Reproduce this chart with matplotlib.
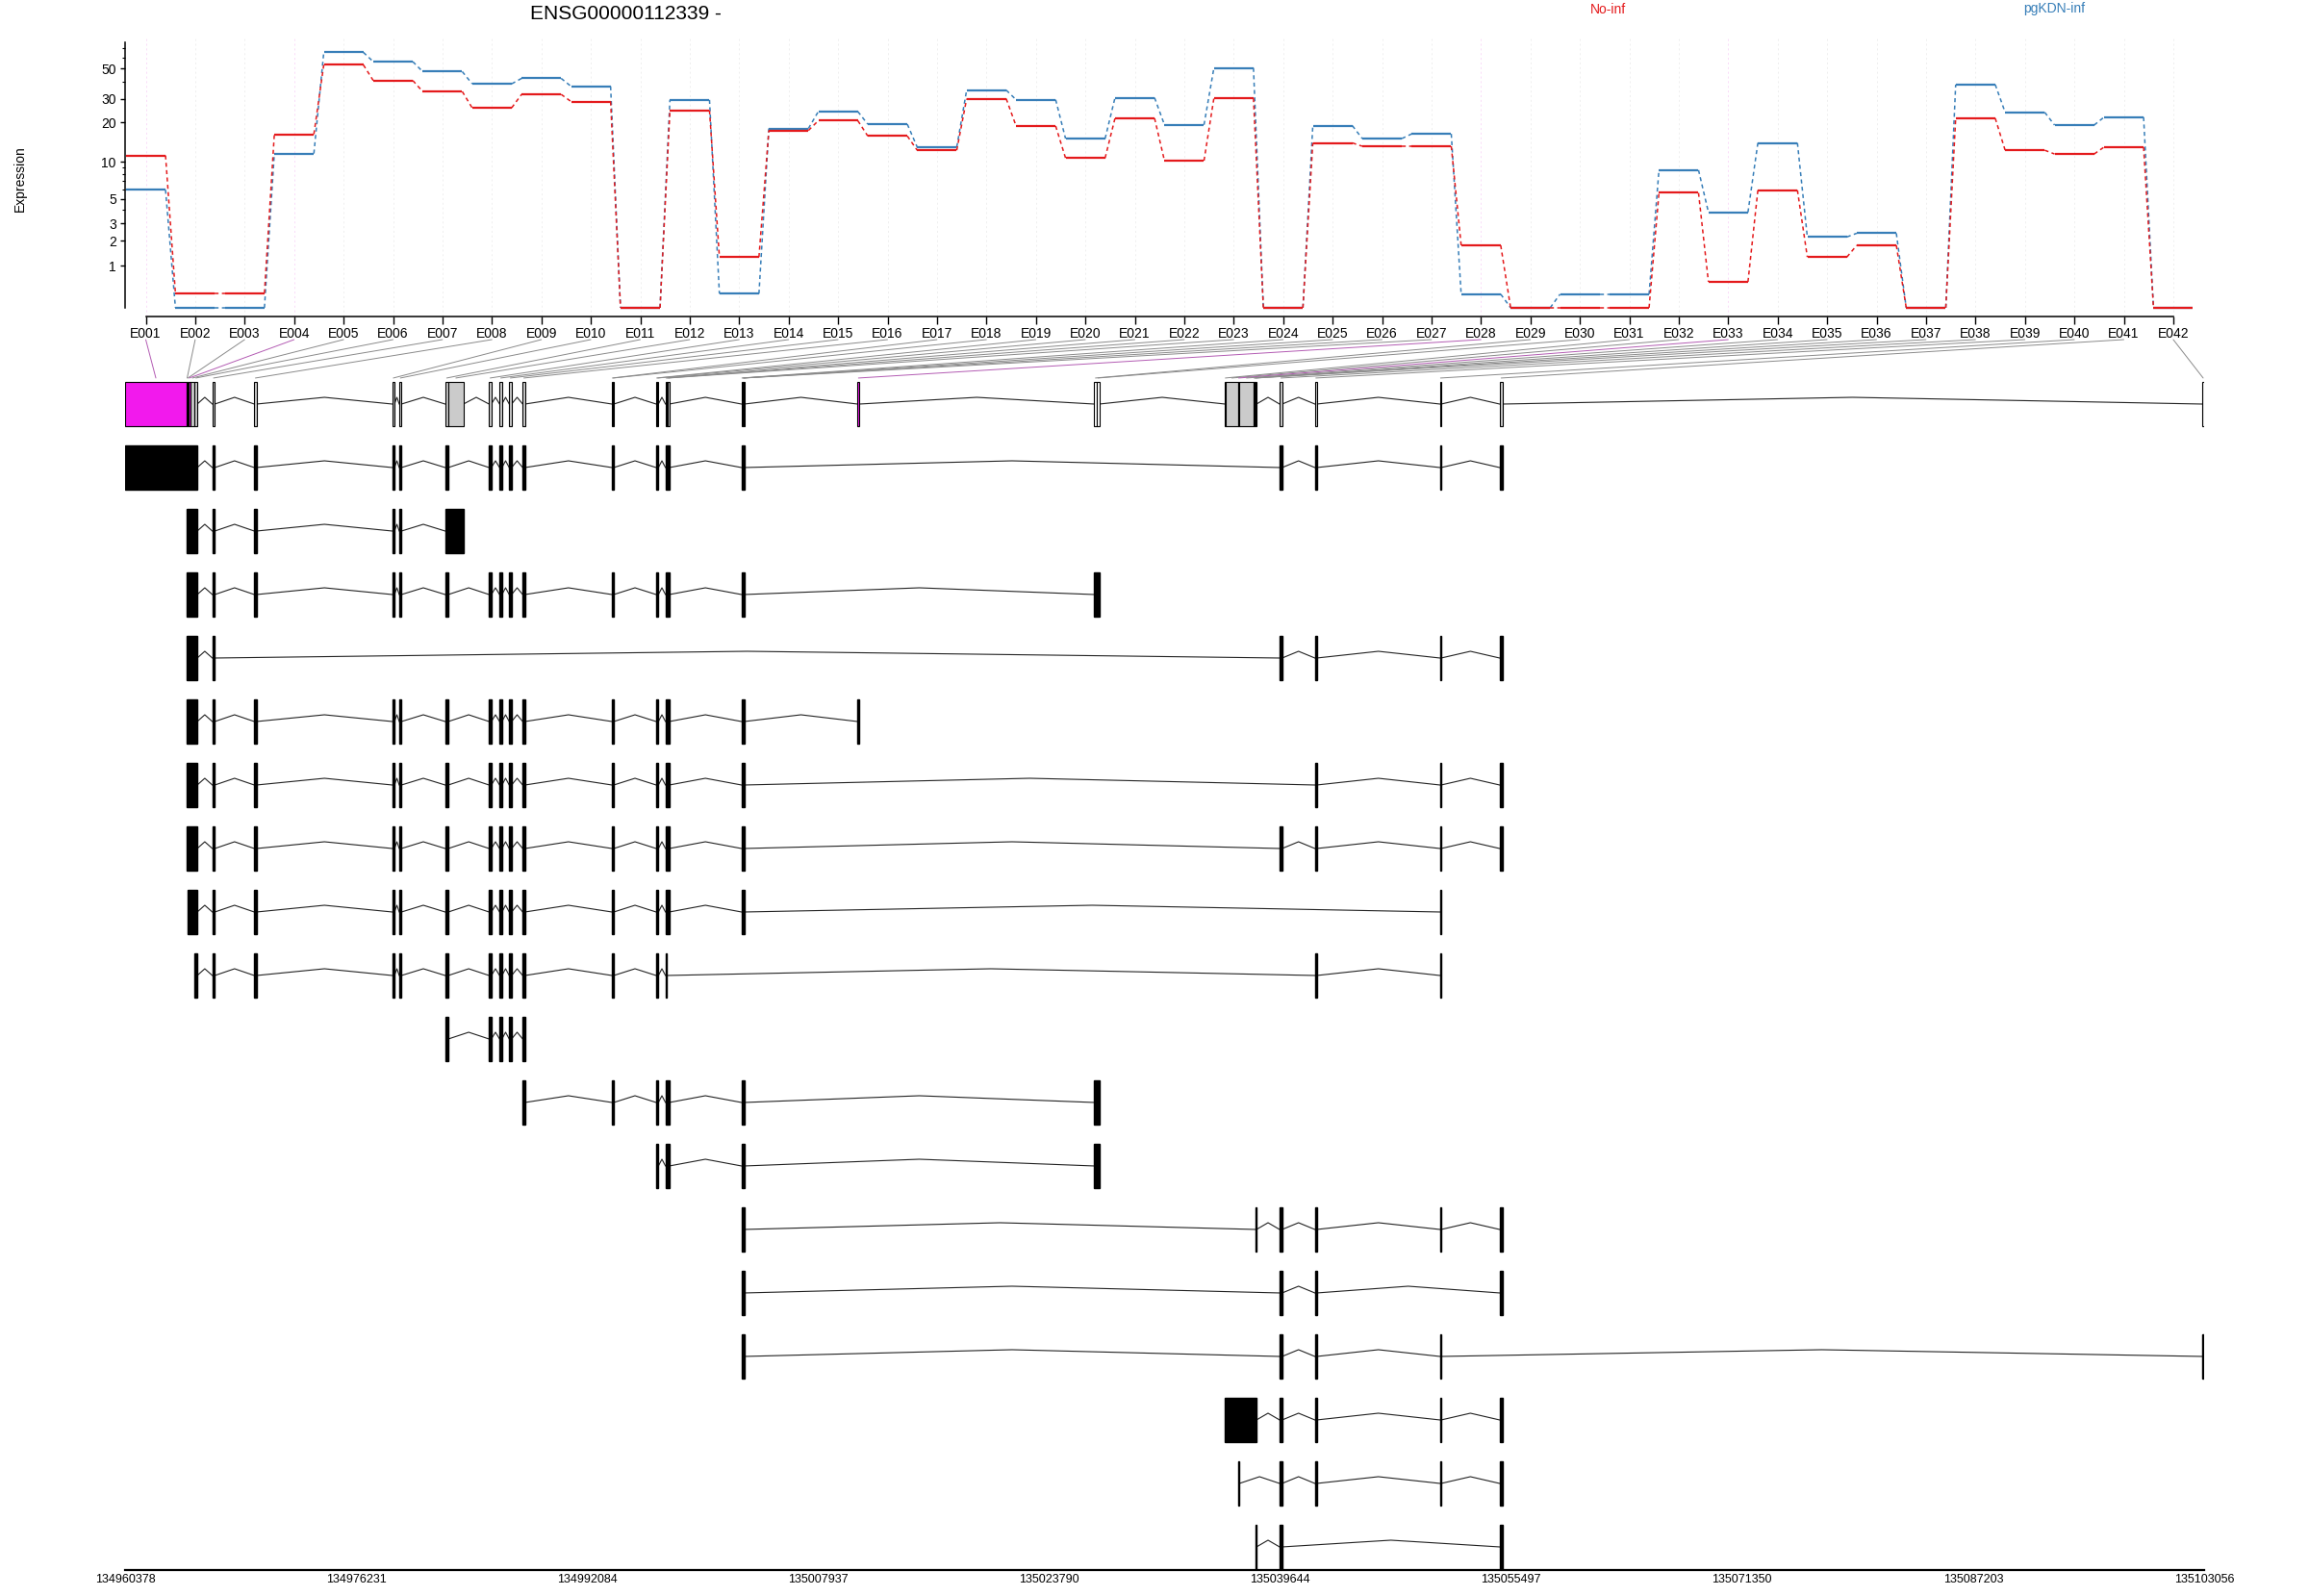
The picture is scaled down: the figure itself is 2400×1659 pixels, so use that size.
import numpy as np
import matplotlib
matplotlib.use("Agg")
import matplotlib.pyplot as plt
from matplotlib.patches import Rectangle, ConnectionPatch

plt.rcParams['font.family'] = ['Liberation Sans', 'DejaVu Sans']
plt.rcParams['lines.scale_dashes'] = False

W, H, DPI = 2400, 1659, 100

# ---------------- data ----------------
gene_title = "ENSG00000112339 -"
conditions = ["No-inf", "pgKDN-inf"]
exon_ids = ["E%03d" % i for i in range(1, 43)]

expr_noinf = [11.2, 0.27, 0.27, 16.3, 53.1, 40.8, 33.9, 25.7, 32.3, 28.6,
              0.0, 24.6, 1.30, 17.4, 20.6, 15.8, 12.3, 30.0, 18.8, 10.7,
              21.5, 10.2, 30.3, 0.0, 14.0, 13.2, 13.2, 1.79, 0.0, 0.0,
              0.0, 5.6, 0.53, 5.9, 1.3, 1.79, 0.0, 21.5, 12.3, 11.5,
              13.0, 0.0]
expr_pgkdn = [5.94, 0.0, 0.0, 11.6, 65.4, 56.0, 47.4, 38.6, 42.3, 37.0,
              0.0, 29.4, 0.26, 18.0, 24.1, 19.4, 13.0, 34.7, 29.5, 15.1,
              30.5, 19.2, 50.4, 0.0, 18.9, 15.1, 16.4, 0.25, 0.0, 0.25,
              0.25, 8.6, 3.8, 14.0, 2.2, 2.4, 0.0, 38.1, 23.8, 19.1,
              21.9, 0.0]
significant = ["E001", "E004", "E028", "E033"]

y_major = [1, 2, 3, 5, 10, 20, 30, 50]
y_minor = [4, 6, 7, 8, 9, 40, 60, 70]

# exonic parts (genomic coordinates)
part_start = [134960378, 134964604, 134964670, 134964716, 134964848, 134965152,
              134966366, 134969245, 134978713, 134979195, 134982344, 134982562,
              134985355, 134986081, 134986741, 134987666, 134993786, 134993852,
              134996823, 134996902, 134997464, 134997550, 134997636, 135002680,
              135002746, 135002812, 135002845, 135010642, 135026884, 135027062,
              135035863, 135035909, 135036748, 135036854, 135037824, 135037890,
              135037956, 135039607, 135042030, 135050613, 135054706, 135102924]
part_end = [134964604, 134964670, 134964716, 134964848, 134965152, 134965330,
            134966538, 134969404, 134978865, 134979347, 134982562, 134983599,
            134985513, 134986240, 134986900, 134987824, 134993852, 134993918,
            134996902, 134996975, 134997550, 134997636, 134997728, 135002746,
            135002812, 135002845, 135002878, 135010774, 135027062, 135027241,
            135035909, 135036748, 135036854, 135037824, 135037890, 135037956,
            135038022, 135039785, 135042162, 135050699, 135054924, 135103056]
part_fill = ["#F219ED", "#CBCBCB", "#CBCBCB", "#F219ED", "#CBCBCB", "#CBCBCB",
             "#CBCBCB", "#CBCBCB", "#CBCBCB", "#CBCBCB", "#CBCBCB", "#CBCBCB",
             "#CBCBCB", "#CBCBCB", "#CBCBCB", "#CBCBCB", "#CBCBCB", "#CBCBCB",
             "#CBCBCB", "#CBCBCB", "#CBCBCB", "#CBCBCB", "#CBCBCB", "#CBCBCB",
             "#CBCBCB", "#CBCBCB", "#CBCBCB", "#F219ED", "#FFFFFF", "#FFFFFF",
             "#CBCBCB", "#CBCBCB", "#F219ED", "#CBCBCB", "#CBCBCB", "#CBCBCB",
             "#CBCBCB", "#CBCBCB", "#CBCBCB", "#CBCBCB", "#CBCBCB", "#FFFFFF"]

# transcripts: exons given as (first part, last part), 1-based
transcripts = [
    [(1, 6), (7, 7), (8, 8), (9, 9), (10, 10), (11, 11), (13, 13), (14, 14), (15, 15), (16, 16),
     (17, 18), (19, 20), (21, 23), (24, 27), (38, 38), (39, 39), (40, 40), (41, 41)],
    [(2, 6), (7, 7), (8, 8), (9, 9), (10, 10), (11, 12)],
    [(2, 6), (7, 7), (8, 8), (9, 9), (10, 10), (11, 11), (13, 13), (14, 14), (15, 15), (16, 16),
     (17, 18), (19, 20), (21, 23), (24, 27), (29, 30)],
    [(2, 6), (7, 7), (38, 38), (39, 39), (40, 40), (41, 41)],
    [(2, 6), (7, 7), (8, 8), (9, 9), (10, 10), (11, 11), (13, 13), (14, 14), (15, 15), (16, 16),
     (17, 18), (19, 20), (21, 23), (24, 27), (28, 28)],
    [(2, 6), (7, 7), (8, 8), (9, 9), (10, 10), (11, 11), (13, 13), (14, 14), (15, 15), (16, 16),
     (17, 18), (19, 20), (21, 23), (24, 27), (39, 39), (40, 40), (41, 41)],
    [(2, 6), (7, 7), (8, 8), (9, 9), (10, 10), (11, 11), (13, 13), (14, 14), (15, 15), (16, 16),
     (17, 18), (19, 20), (21, 23), (24, 27), (38, 38), (39, 39), (40, 40), (41, 41)],
    [(3, 6), (7, 7), (8, 8), (9, 9), (10, 10), (11, 11), (13, 13), (14, 14), (15, 15), (16, 16),
     (17, 18), (19, 20), (21, 23), (24, 27), (40, 40)],
    [(6, 6), (7, 7), (8, 8), (9, 9), (10, 10), (11, 11), (13, 13), (14, 14), (15, 15), (16, 16),
     (17, 18), (19, 20), (21, 21), (39, 39), (40, 40)],
    [(11, 11), (13, 13), (14, 14), (15, 15), (16, 16)],
    [(16, 16), (17, 18), (19, 20), (21, 23), (24, 27), (29, 30)],
    [(19, 20), (21, 23), (24, 27), (29, 30)],
    [(24, 27), (37, 37), (38, 38), (39, 39), (40, 40), (41, 41)],
    [(24, 27), (38, 38), (39, 39), (41, 41)],
    [(24, 27), (38, 38), (39, 39), (40, 40), (42, 42)],
    [(31, 37), (38, 38), (39, 39), (40, 40), (41, 41)],
    [(33, 33), (38, 38), (39, 39), (40, 40), (41, 41)],
    [(37, 37), (38, 38), (41, 41)],
]

axis_ticks = [134960378, 134976231, 134992084, 135007937, 135023790,
              135039644, 135055497, 135071350, 135087203, 135103056]

RED = "#E41A1C"
BLUE = "#377EB8"

# ---------------- figure ----------------
fig = plt.figure(figsize=(W / DPI, H / DPI), dpi=DPI)

def px2fig(x, y):
    return x / W, 1 - y / H

n = len(exon_ids)
pos = np.arange(1, n + 1)
tr = lambda v: np.log10(np.asarray(v, dtype=float) + 1)

# top expression panel
ax = fig.add_axes([130 / W, 1 - 329 / H, (2280.4 - 130) / W, (329 - 40) / H])
ax.set_xlim(0.5817, 42.418)
ax.set_ylim(-0.0625, 1.9211)

for i, eid in enumerate(exon_ids):
    col = "#F9D6F7" if eid in significant else "#EDEDED"
    ax.axvline(pos[i], color=col, lw=0.6, ls=(0, (1.5, 2)), zorder=0)

for vals, col in [(expr_pgkdn, BLUE), (expr_noinf, RED)]:
    t = tr(vals)
    ax.hlines(t, pos - 0.4, pos + 0.4, color=col, lw=1.6, zorder=3)
    for i in range(n - 1):
        ax.plot([pos[i] + 0.4, pos[i + 1] - 0.4], [t[i], t[i + 1]], color=col,
                lw=1.1, ls=(0, (3, 2.5)), zorder=2)

for s in ["top", "right"]:
    ax.spines[s].set_visible(False)
ax.spines["left"].set_bounds(0, tr(77))
ax.spines["bottom"].set_bounds(1, 42)
ax.spines["left"].set_linewidth(1.1)
ax.spines["bottom"].set_linewidth(1.1)
ax.set_xticks(pos)
ax.set_xticklabels(exon_ids, fontsize=10)
ax.tick_params(axis="x", length=5.8, width=1.0, pad=2)
ax.set_yticks(tr(y_major))
ax.set_yticklabels([str(v) for v in y_major], fontsize=10)
ax.set_yticks(tr(y_minor), minor=True)
ax.tick_params(axis="y", which="major", length=3.6, width=1.0, pad=3)
ax.tick_params(axis="y", which="minor", length=2.0, width=0.8)
ax.patch.set_visible(False)

fig.text(*px2fig(21, 186), "Expression", rotation=90, ha="center", va="center", fontsize=10)
fig.text(*px2fig(650, 14), gene_title, ha="center", va="center", fontsize=15)
fig.text(*px2fig(1672, 9.5), conditions[0], ha="center", va="center", fontsize=10, color=RED)
fig.text(*px2fig(2135, 9.5), conditions[1], ha="center", va="center", fontsize=10, color=BLUE)

# gene model panel
axg = fig.add_axes([130 / W, 1 - 1632 / H, 2161 / W, (1632 - 350) / H])
axg.set_xlim(axis_ticks[0], axis_ticks[-1])
axg.set_ylim(18.364, -1.0606)
for s in ["top", "right", "left"]:
    axg.spines[s].set_visible(False)
axg.spines["bottom"].set_linewidth(1.6)
axg.set_yticks([])
axg.set_xticks(axis_ticks)
axg.set_xticklabels([str(v) for v in axis_ticks], fontsize=9)
axg.tick_params(axis="x", length=0, pad=3)
axg.patch.set_visible(False)

HALF = 0.35
HAT = 0.106

def merge(exons):
    out = []
    for s, e in sorted(exons):
        if out and s <= out[-1][1]:
            out[-1][1] = max(out[-1][1], e)
        else:
            out.append([s, e])
    return out

def draw_introns(row, blocks):
    for (s0, e0), (s1, e1) in zip(blocks[:-1], blocks[1:]):
        mid = (e0 + s1) / 2
        axg.plot([e0, mid, s1], [row, row - HAT, row], color="#222222", lw=0.8, zorder=1)

# gene track (row 0)
blocks = merge([(s, e) for s, e in zip(part_start, part_end)])
draw_introns(0, blocks)
for s, e, fc in zip(part_start, part_end, part_fill):
    axg.add_patch(Rectangle((s, -HALF), e - s, 2 * HALF, facecolor=fc,
                            edgecolor="black", lw=0.8, zorder=2))

# transcripts
for k, tx in enumerate(transcripts, start=1):
    ex = [(part_start[a - 1], part_end[b - 1]) for a, b in tx]
    bl = merge(ex)
    draw_introns(k, bl)
    for s, e in bl:
        axg.add_patch(Rectangle((s, k - HALF), e - s, 2 * HALF, facecolor="black",
                                edgecolor="black", lw=1.0, zorder=2))

# connector lines from exon labels to exonic parts
for i, eid in enumerate(exon_ids):
    c = (part_start[i] + part_end[i]) / 2
    col = "#B35BB3" if eid in significant else "#8A8A8A"
    con = ConnectionPatch(xyA=(pos[i], -0.2272), coordsA=ax.transData,
                          xyB=(c, -0.41), coordsB=axg.transData,
                          color=col, lw=0.7)
    fig.add_artist(con)

fig.savefig("out.png", dpi=DPI)
